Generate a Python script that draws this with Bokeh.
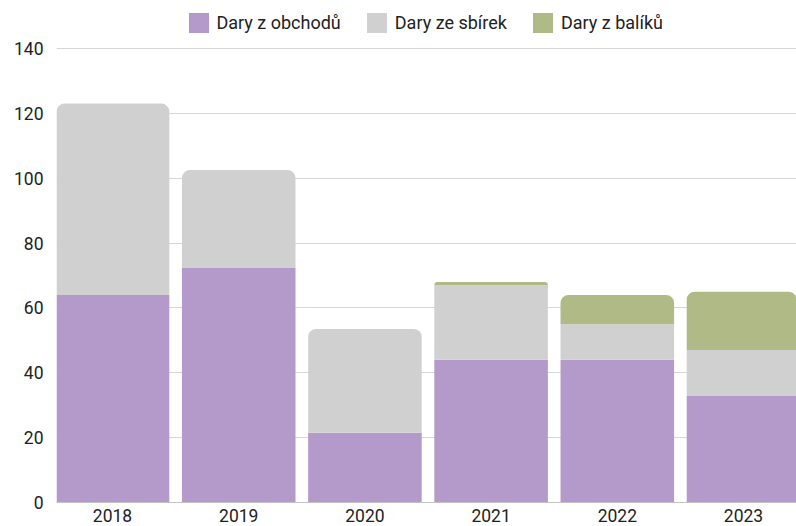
from bokeh.plotting import figure
from bokeh.models import ColumnDataSource, Legend, LegendItem, FixedTicker, Range1d
from bokeh.embed import file_html
from bokeh.resources import INLINE

years = ["2018", "2019", "2020", "2021", "2022", "2023"]
obchody = [64, 72.5, 21.5, 44, 44, 33]
sbirky = [59, 30, 32, 23, 11, 14]
baliky = [0, 0, 0, 1, 9, 18]
series_names = ["Dary z obchodů", "Dary ze sbírek", "Dary z balíků"]
colors = ["#b49aca", "#d0d0d0", "#b0ba86"]
y_ticks = [0, 20, 40, 60, 80, 100, 120, 140]

series = [obchody, sbirky, baliky]
xs = list(range(len(years)))

# frame: left 56, right 796, top 0, bottom 502 ; 140 at y=48 -> 3.243 px/unit
p = figure(width=796, height=526, output_backend="svg", toolbar_location=None,
           x_range=Range1d(-0.444, 5.42), y_range=Range1d(0, 154.8),
           min_border_left=56, min_border_right=0, min_border_top=0,
           min_border_bottom=24)
p.outline_line_color = None
p.background_fill_color = "white"

# stacking
bottoms = []
acc = [0.0] * len(years)
for s in series:
    bottoms.append(list(acc))
    acc = [a + v for a, v in zip(acc, s)]

top_index = []
for i in range(len(years)):
    t = 0
    for k, s in enumerate(series):
        if s[i] > 0:
            t = k
    top_index.append(t)

legend_items = []
for k, s in enumerate(series):
    rends = []
    for rounded in (False, True):
        idx = [i for i in range(len(years)) if s[i] > 0 and ((top_index[i] == k) == rounded)]
        src = ColumnDataSource(dict(
            x=[xs[i] for i in idx],
            bottom=[bottoms[k][i] for i in idx],
            top=[bottoms[k][i] + s[i] for i in idx],
        ))
        r = p.vbar(x="x", bottom="bottom", top="top", width=0.9, source=src,
                   fill_color=colors[k], line_color=None,
                   border_radius=(8, 8, 0, 0) if rounded else 0)
        rends.append(r)
    legend_items.append(LegendItem(label=series_names[k], renderers=rends))

legend = Legend(items=legend_items, orientation="horizontal", location=(129.5, 467),
                glyph_width=25, glyph_height=25, label_standoff=6, spacing=23,
                padding=0, margin=0, border_line_color=None, background_fill_alpha=0,
                label_text_font="Roboto", label_text_font_size="18px",
                label_text_color="#222222", label_height=25)
p.add_layout(legend, "center")

p.xaxis.ticker = FixedTicker(ticks=xs)
p.xaxis.major_label_overrides = {i: y for i, y in zip(xs, years)}
p.xaxis.major_tick_line_color = None
p.xaxis.major_tick_out = 0
p.xaxis.minor_tick_line_color = None
p.xaxis.axis_line_color = "#c4c4c4"
p.xaxis.major_label_text_font = "Roboto"
p.xaxis.major_label_text_font_size = "17.5px"
p.xaxis.major_label_text_color = "#222222"
p.xaxis.major_label_standoff = 6

p.yaxis.ticker = FixedTicker(ticks=y_ticks)
p.yaxis.major_tick_line_color = None
p.yaxis.major_tick_out = 0
p.yaxis.minor_tick_line_color = None
p.yaxis.axis_line_color = None
p.yaxis.major_label_text_font = "Roboto"
p.yaxis.major_label_text_font_size = "17.5px"
p.yaxis.major_label_text_color = "#222222"
p.yaxis.major_label_standoff = 13

p.xgrid.grid_line_color = None
p.ygrid.ticker = FixedTicker(ticks=y_ticks)
p.ygrid.grid_line_color = "#d6d6d6"

open("out.html", "w").write(file_html(p, INLINE))
